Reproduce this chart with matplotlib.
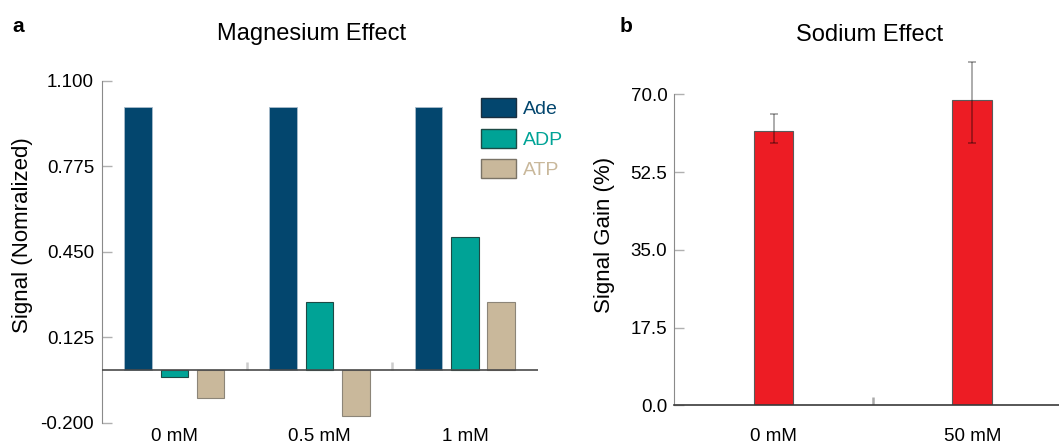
import matplotlib
matplotlib.use('Agg')
import matplotlib.pyplot as plt
import numpy as np

plt.rcParams['font.family'] = ['Liberation Sans', 'DejaVu Sans']

# Panel a: magnesium effect
mg_groups = ['0 mM', '0.5 mM', '1 mM']
ade = [1.0, 1.0, 1.0]
adp = [-0.027, 0.258, 0.508]
atp = [-0.107, -0.174, 0.259]
mg_yticks = [-0.2, 0.125, 0.45, 0.775, 1.1]
mg_yticklabels = ['-0.200', '0.125', '0.450', '0.775', '1.100']

# Panel b: sodium effect
na_groups = ['0 mM', '50 mM']
na_gain = [61.8, 68.7]
na_err_low = [2.8, 9.7]
na_err_high = [3.8, 8.6]
na_yticks = [0.0, 17.5, 35.0, 52.5, 70.0]
na_yticklabels = ['0.0', '17.5', '35.0', '52.5', '70.0']

c_ade, c_adp, c_atp, c_na = '#03466E', '#00A396', '#C9B89B', '#ED1C24'
spine_gray = '#8a8a8a'

fig = plt.figure(figsize=(10.59, 4.44), dpi=100)

# ---- panel a ----
ax1 = fig.add_axes([0.0960, 0.0480, 0.4116, 0.7696])
x = np.arange(len(mg_groups)) + 0.5
w = 0.19
b1 = ax1.bar(x - 0.25, ade, w, color=c_ade, edgecolor='#a9bccb', linewidth=0.6, label='Ade')
b2 = ax1.bar(x, adp, w, color=c_adp, edgecolor='#1d4a45', linewidth=0.8, label='ADP')
b3 = ax1.bar(x + 0.25, atp, w, color=c_atp, edgecolor='#8c8578', linewidth=0.8, label='ATP')
ax1.axhline(0, color='#4a4a4a', lw=1.2, zorder=3)
ax1.vlines(np.arange(1, len(mg_groups)), 0, 0.03, color='#cccccc', lw=1.8)
ax1.set_xlim(0, len(mg_groups))
ax1.set_ylim(-0.2, 1.1)
ax1.set_yticks(mg_yticks)
ax1.set_yticklabels(mg_yticklabels)
ax1.set_xticks(x)
ax1.set_xticklabels(mg_groups)
ax1.tick_params(axis='x', length=0, pad=3.5, labelsize=13.5)
ax1.tick_params(axis='y', direction='in', length=7.2, width=1, color='#b0b0b0', pad=5.5, labelsize=13.5)
for s in ['top', 'right', 'bottom']:
    ax1.spines[s].set_visible(False)
ax1.spines['left'].set_color(spine_gray)
ax1.set_ylabel('Signal (Nomralized)', fontsize=16)
ax1.yaxis.set_label_coords(-0.158, 0.549)

leg = ax1.legend(handles=[b1, b2, b3], loc='upper left', bbox_to_anchor=(480.7 / 1059, 1 - 97.7 / 444),
                 bbox_transform=fig.transFigure, frameon=False, fontsize=14, borderpad=0, borderaxespad=0,
                 handlelength=1.8, handleheight=1.13, handletextpad=0.35, labelspacing=0.55)
for t, c in zip(leg.get_texts(), [c_ade, c_adp, c_atp]):
    t.set_color(c)
for h, ec in zip(leg.legend_handles, ['#1a2f40', '#1d4a45', '#7a7366']):
    h.set_edgecolor(ec)
    h.set_linewidth(1.0)

# ---- panel b ----
ax2 = fig.add_axes([0.6367, 0.0872, 0.3753, 0.7004])
xn = np.arange(len(na_groups)) + 0.5
ax2.bar(xn, na_gain, 0.2, color=c_na, edgecolor='#5a5a5a', linewidth=0.8)
eb = ax2.errorbar(xn, na_gain, yerr=[na_err_low, na_err_high], fmt='none', ecolor=(0, 0, 0, 0.35),
                  elinewidth=1.3, capsize=3, capthick=1.3, zorder=4)
for part in eb.get_children():
    part.set_clip_on(False)
ax2.vlines(np.arange(1, len(na_groups)), 0, 1.8, color='#aaaaaa', lw=1.8)
ax2.set_xlim(0, len(na_groups))
ax2.set_ylim(0, 70)
ax2.set_yticks(na_yticks)
ax2.set_yticklabels(na_yticklabels)
ax2.set_xticks(xn)
ax2.set_xticklabels(na_groups)
ax2.tick_params(axis='x', length=0, pad=16.5, labelsize=13.5)
ax2.tick_params(axis='y', direction='in', length=7.2, width=1, color='#b0b0b0', pad=5, labelsize=13.5)
for s in ['top', 'right']:
    ax2.spines[s].set_visible(False)
ax2.spines['left'].set_color(spine_gray)
ax2.spines['bottom'].set_color('#3a3a3a')
ax2.spines['bottom'].set_linewidth(1.2)
ax2.set_ylabel('Signal Gain (%)', fontsize=16)
ax2.yaxis.set_label_coords(-0.149, 0.548)

# titles and panel letters
fig.text(312 / 1059, 1 - 40 / 444, 'Magnesium Effect', ha='center', va='baseline', fontsize=17)
fig.text(869.5 / 1059, 1 - 41 / 444, 'Sodium Effect', ha='center', va='baseline', fontsize=17)
fig.text(12 / 1059, 1 - 32 / 444, 'a', ha='left', va='baseline', fontsize=15, fontweight='bold')
fig.text(620 / 1059, 1 - 32 / 444, 'b', ha='left', va='baseline', fontsize=15, fontweight='bold')

fig.savefig('out.png', dpi=100)
